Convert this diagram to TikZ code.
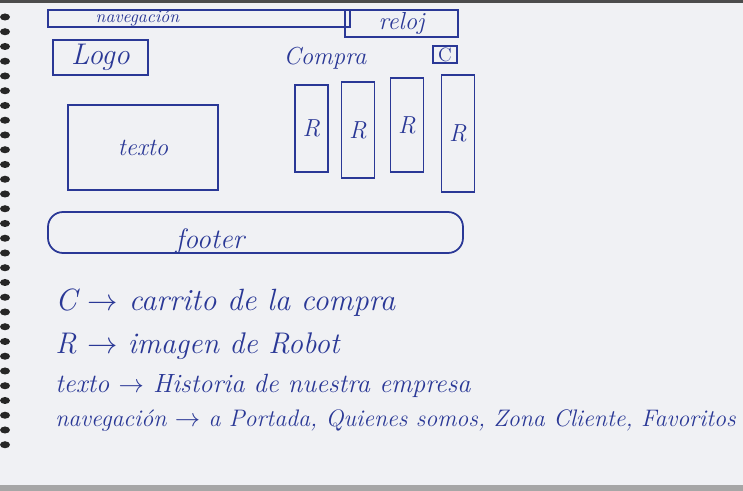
\documentclass[tikz,border=0pt]{standalone}
\usepackage{fontspec}
\definecolor{ink}{RGB}{42,56,150}
\definecolor{paper}{RGB}{240,241,244}
\begin{document}
\begin{tikzpicture}[
    box/.style={draw=ink, line width=1pt, inner sep=0pt, text=ink, font=\itshape\fontsize{14}{16}\selectfont},
    robot/.style={box, minimum width=0.66cm},
    note/.style={anchor=west, inner sep=0pt, text=ink, font=\itshape\fontsize{16}{18}\selectfont},
]

% paper and spiral binding
\fill[paper] (0,0) rectangle (14.86,-9.82);
\fill[black!70] (0,0) rectangle (14.86,-0.06);
\fill[black!35] (0,-9.70) rectangle (14.86,-9.82);
\foreach \k in {0,...,29}
    \fill[black!85] (0.1,-0.34-0.295*\k) ellipse (0.1 and 0.07);

\node[box, minimum width=6.04cm, minimum height=0.34cm] (nav) at (3.98,-0.37) {};
\node[box, font=\itshape\fontsize{10}{12}\selectfont, draw=none] (navtxt) at (2.75,-0.36) {navegación};
\node[box, minimum width=2.26cm, minimum height=0.54cm] (reloj) at (8.03,-0.47) {reloj};

\node[box, minimum width=1.9cm, minimum height=0.7cm, font=\itshape\fontsize{17}{19}\selectfont] (logo) at (2.01,-1.15) {Logo};
\node[box, draw=none] (compra) at (6.5,-1.16) {Compra};
\node[box, minimum width=0.48cm, minimum height=0.34cm, font=\fontsize{11}{12}\selectfont] (cart) at (8.9,-1.09) {C};

\node[box, minimum width=3.0cm, minimum height=1.7cm] (texto) at (2.86,-2.95) {texto};

\node[robot, minimum height=1.74cm] (r1) at (6.23,-2.57) {R};
\node[robot, minimum height=1.92cm] (r2) at (7.16,-2.60) {R};
\node[robot, minimum height=1.88cm] (r3) at (8.14,-2.50) {R};
\node[robot, minimum height=2.34cm] (r4) at (9.16,-2.67) {R};

\node[box, rounded corners=0.3cm, minimum width=8.3cm, minimum height=0.82cm] (footer) at (5.11,-4.65) {};
\node[box, draw=none, font=\itshape\fontsize{16}{18}\selectfont] (foottxt) at (4.2,-4.82) {footer};

% legend
\node[note, font=\itshape\fontsize{17.5}{19}\selectfont] (n1) at (1.1,-6.05) {C $\rightarrow$ carrito de la compra};
\node[note, font=\itshape\fontsize{17}{19}\selectfont] (n2) at (1.1,-6.92) {R $\rightarrow$ imagen de Robot};
\node[note, font=\itshape\fontsize{15}{17}\selectfont] (n3) at (1.1,-7.72) {texto $\rightarrow$ Historia de nuestra empresa};
\node[note, font=\itshape\fontsize{13.6}{15}\selectfont] (n4) at (1.1,-8.42) {navegación $\rightarrow$ a Portada, Quienes somos, Zona Cliente, Favoritos};

\end{tikzpicture}
\end{document}
